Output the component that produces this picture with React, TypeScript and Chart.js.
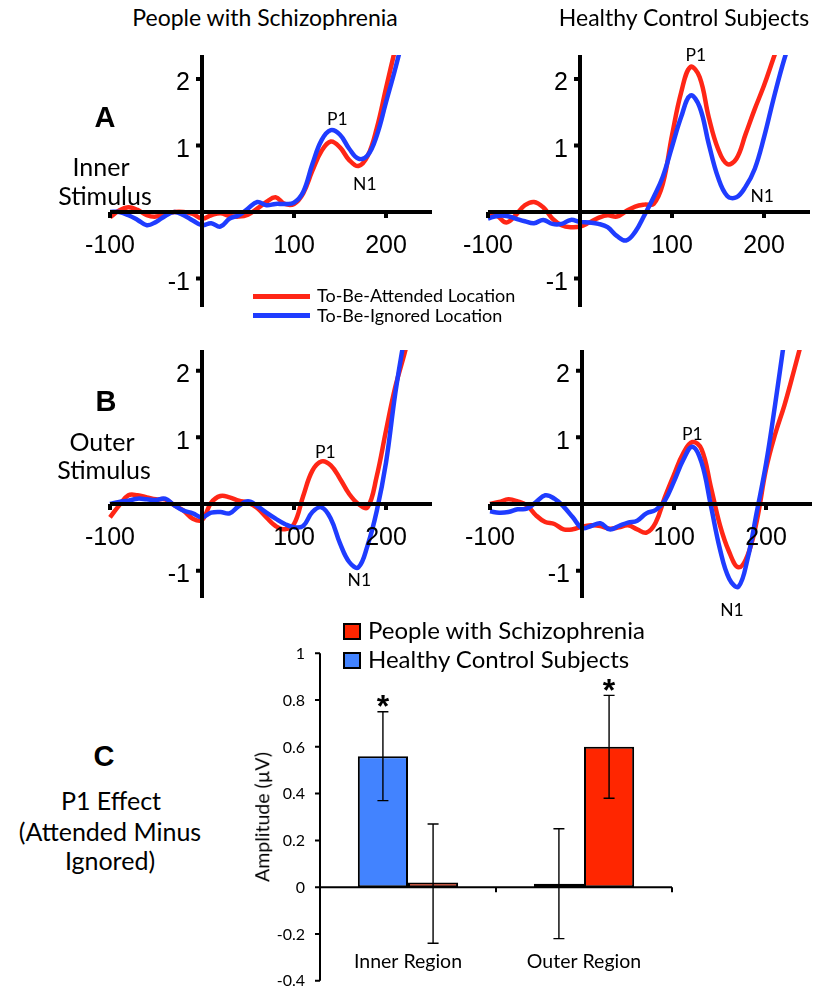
import React, { useEffect, useRef } from "react";
import { Chart, registerables } from "chart.js";

Chart.register(...registerables);

// ---------------- ERP waveform data (µV), sampled every 10 ms ----------------
const TIMES = [-100, -90, -80, -70, -60, -50, -40, -30, -20, -10, 0, 10, 20, 30, 40, 50, 60, 70, 80, 90, 100, 110, 120, 130, 140, 150, 160, 170, 180, 190, 200, 210, 220, 230, 240];

// A: Inner stimulus, people with schizophrenia
const SZ_INNER_ATTENDED = [-0.08, 0.02, 0.07, 0.03, -0.05, -0.07, -0.03, 0.0, 0.0, -0.03, -0.1, -0.05, -0.02, -0.06, -0.07, -0.04, 0.05, 0.15, 0.22, 0.12, 0.12, 0.28, 0.62, 0.92, 1.06, 0.97, 0.78, 0.69, 0.84, 1.26, 1.86, 2.45, null, null, null];
const SZ_INNER_IGNORED = [0.0, 0.0, -0.05, -0.12, -0.2, -0.15, -0.06, 0.0, -0.05, -0.13, -0.2, -0.17, -0.22, -0.1, -0.05, 0.05, 0.15, 0.1, 0.12, 0.12, 0.14, 0.3, 0.72, 1.08, 1.23, 1.16, 0.95, 0.8, 0.85, 1.15, 1.65, 2.15, 2.7, null, null];
// A: Inner stimulus, healthy control subjects
const HC_INNER_ATTENDED = [-0.02, -0.06, -0.16, -0.05, 0.1, 0.15, 0.07, -0.1, -0.2, -0.23, -0.22, -0.16, -0.09, -0.05, -0.07, 0.01, 0.08, 0.11, 0.12, 0.42, 1.15, 1.8, 2.18, 2.03, 1.42, 0.95, 0.72, 0.8, 1.17, 1.55, 1.9, 2.3, 2.7, null, null];
const HC_INNER_IGNORED = [-0.1, -0.06, -0.06, -0.1, -0.14, -0.17, -0.12, -0.18, -0.18, -0.12, -0.15, -0.16, -0.18, -0.23, -0.36, -0.43, -0.3, -0.05, 0.22, 0.53, 0.98, 1.43, 1.75, 1.58, 1.02, 0.52, 0.24, 0.22, 0.38, 0.65, 1.12, 1.68, 2.2, 2.65, null];
// B: Outer stimulus, people with schizophrenia
const SZ_OUTER_ATTENDED = [-0.2, -0.02, 0.13, 0.13, 0.1, 0.07, 0.07, -0.02, -0.1, -0.22, -0.24, 0.02, 0.12, 0.1, 0.05, 0.02, -0.06, -0.2, -0.33, -0.38, -0.3, 0.12, 0.5, 0.64, 0.58, 0.38, 0.15, 0.0, -0.05, 0.42, 1.1, 1.75, 2.25, 2.8, null];
const SZ_OUTER_IGNORED = [0.0, 0.03, 0.05, 0.08, 0.07, 0.06, 0.08, -0.02, -0.1, -0.14, -0.2, -0.13, -0.12, -0.14, -0.03, 0.04, -0.03, -0.13, -0.22, -0.3, -0.35, -0.33, -0.12, -0.05, -0.22, -0.59, -0.87, -0.95, -0.62, -0.1, 0.62, 1.65, 2.5, null, null];
// B: Outer stimulus, healthy control subjects
const HC_OUTER_ATTENDED = [0.0, 0.03, 0.07, 0.04, -0.02, -0.17, -0.27, -0.3, -0.38, -0.38, -0.34, -0.32, -0.33, -0.37, -0.35, -0.32, -0.38, -0.43, -0.28, 0.1, 0.44, 0.76, 0.93, 0.82, 0.26, -0.32, -0.72, -0.95, -0.77, -0.25, 0.52, 1.05, 1.48, 1.98, 2.5];
const HC_OUTER_IGNORED = [-0.11, -0.13, -0.12, -0.08, -0.07, 0.03, 0.13, 0.08, -0.04, -0.2, -0.36, -0.33, -0.29, -0.38, -0.33, -0.28, -0.25, -0.14, -0.09, 0.05, 0.34, 0.66, 0.86, 0.62, -0.02, -0.68, -1.12, -1.24, -0.82, -0.12, 0.6, 1.5, 2.47, null, null];

const ERP_X_TICKS = [-100, 100, 200];
const ERP_Y_TICKS = [2, 1, -1];

// Component labels (time in ms, amplitude in µV)
const NOTES_SZ_INNER = [{ label: "P1", t: 147, v: 1.4 }, { label: "N1", t: 177, v: 0.42 }];
const NOTES_HC_INNER = [{ label: "P1", t: 126, v: 2.36 }, { label: "N1", t: 198, v: 0.24 }];
const NOTES_SZ_OUTER = [{ label: "P1", t: 134, v: 0.78 }, { label: "N1", t: 171, v: -1.14 }];
const NOTES_HC_OUTER = [{ label: "P1", t: 120, v: 1.05 }, { label: "N1", t: 163, v: -1.59 }];

// ---------------- Panel C: P1 effect (attended minus ignored) ----------------
const REGIONS = ["Inner Region", "Outer Region"];
const HC_P1_EFFECT = [0.56, 0.015];
const HC_ERR_LOW = [0.37, -0.22];
const HC_ERR_HIGH = [0.75, 0.25];
const HC_SIGNIFICANT = [true, false];
const SZ_P1_EFFECT = [0.02, 0.6];
const SZ_ERR_LOW = [-0.24, 0.38];
const SZ_ERR_HIGH = [0.27, 0.82];
const SZ_SIGNIFICANT = [false, true];
const BAR_Y_TICKS = [1, 0.8, 0.6, 0.4, 0.2, 0, -0.2, -0.4];

// ---------------- styles ----------------
const RED = "#ff2616";
const BLUE = "#1f3cff";
const BAR_RED = "#ff2600";
const BAR_BLUE = "#4283ff";

const ERP_PANELS = [
  { attended: SZ_INNER_ATTENDED, ignored: SZ_INNER_IGNORED, notes: NOTES_SZ_INNER, area: [110, 55, 432, 307], yMin: -1.43, yMax: 2.36, padRight: 4 },
  { attended: HC_INNER_ATTENDED, ignored: HC_INNER_IGNORED, notes: NOTES_HC_INNER, area: [488, 55, 810, 307], yMin: -1.43, yMax: 2.36, padRight: 4 },
  { attended: SZ_OUTER_ATTENDED, ignored: SZ_OUTER_IGNORED, notes: NOTES_SZ_OUTER, area: [110, 350, 432, 598], yMin: -1.41, yMax: 2.31, padRight: 4 },
  { attended: HC_OUTER_ATTENDED, ignored: HC_OUTER_IGNORED, notes: NOTES_HC_OUTER, area: [490, 350, 812, 598], yMin: -1.41, yMax: 2.31, padRight: 2 },
];

function ErpChart({ cfg }: { cfg: any }) {
  const ref = useRef<HTMLCanvasElement>(null);
  const [l, t, r, b] = cfg.area;
  const pad = { left: 75, right: cfg.padRight, top: 22, bottom: 50 };
  const w = r - l + pad.left + pad.right;
  const h = b - t + pad.top + pad.bottom;

  useEffect(() => {
    const axesPlugin = {
      id: "erpAxes",
      afterDatasetsDraw(chart: any) {
        const { ctx, chartArea, scales } = chart;
        const xs = scales.x;
        const ys = scales.y;
        const x0 = xs.getPixelForValue(0);
        const y0 = ys.getPixelForValue(0);
        ctx.save();
        ctx.strokeStyle = "#000";
        ctx.fillStyle = "#000";
        ctx.lineCap = "butt";
        ctx.lineWidth = 4;
        ctx.beginPath();
        ctx.moveTo(chartArea.left, y0);
        ctx.lineTo(chartArea.right, y0);
        ctx.moveTo(x0, chartArea.top);
        ctx.lineTo(x0, chartArea.bottom);
        ctx.stroke();
        ctx.lineWidth = 4;
        ctx.beginPath();
        ERP_X_TICKS.forEach((tv) => {
          const px = xs.getPixelForValue(tv);
          ctx.moveTo(px, y0);
          ctx.lineTo(px, y0 + 6);
        });
        ERP_Y_TICKS.forEach((v) => {
          const py = ys.getPixelForValue(v);
          ctx.moveTo(x0, py);
          ctx.lineTo(x0 - 6, py);
        });
        ctx.stroke();
        ctx.font = '25px "Liberation Sans"';
        ctx.textBaseline = "alphabetic";
        ctx.textAlign = "center";
        ERP_X_TICKS.forEach((tv) => {
          ctx.fillText(String(tv), xs.getPixelForValue(tv), y0 + 41);
        });
        ctx.textAlign = "right";
        ERP_Y_TICKS.forEach((v) => {
          ctx.fillText(String(v), x0 - 12, ys.getPixelForValue(v) + 11.5);
        });
        ctx.font = '17.5px "Lato"';
        ctx.textAlign = "center";
        cfg.notes.forEach((n: any) => {
          ctx.fillText(n.label, xs.getPixelForValue(n.t), ys.getPixelForValue(n.v) + 6.3);
        });
        ctx.restore();
      },
    };
    const toPts = (arr: (number | null)[]) => TIMES.map((tv, i) => ({ x: tv, y: arr[i] }));
    const chart = new Chart(ref.current as HTMLCanvasElement, {
      type: "line",
      data: {
        datasets: [
          { label: "To-Be-Ignored Location", data: toPts(cfg.ignored) as any, borderColor: BLUE, borderWidth: 4.5, pointRadius: 0, tension: 0.4, fill: false, order: 0, clip: { left: 3, right: 3, top: 0, bottom: 3 } as any },
          { label: "To-Be-Attended Location", data: toPts(cfg.attended) as any, borderColor: RED, borderWidth: 4.5, pointRadius: 0, tension: 0.4, fill: false, order: 1, clip: { left: 3, right: 3, top: 0, bottom: 3 } as any },
        ],
      },
      options: {
        animation: false,
        responsive: false,
        events: [],
        layout: { padding: pad },
        plugins: { legend: { display: false }, tooltip: { enabled: false } },
        scales: {
          x: { type: "linear", min: -100, max: 250, display: false },
          y: { type: "linear", min: cfg.yMin, max: cfg.yMax, display: false },
        },
      },
      plugins: [axesPlugin],
    });
    return () => chart.destroy();
  }, []);

  return (
    <canvas
      ref={ref}
      width={w}
      height={h}
      style={{ position: "absolute", left: l - pad.left, top: t - pad.top, width: w, height: h }}
    />
  );
}

function BarChart() {
  const ref = useRef<HTMLCanvasElement>(null);
  const box = { left: 230, top: 600, width: 460, height: 391 };
  const pad = { left: 90, top: 53.3, right: 18, bottom: 10.3 };

  useEffect(() => {
    const barPlugin = {
      id: "barAxes",
      afterDatasetsDraw(chart: any) {
        const { ctx, chartArea, scales } = chart;
        const xs = scales.x;
        const ys = scales.y;
        const y0 = ys.getPixelForValue(0);
        ctx.save();
        ctx.strokeStyle = "#000";
        ctx.fillStyle = "#000";
        ctx.lineWidth = 2;
        ctx.beginPath();
        ctx.moveTo(chartArea.left, chartArea.top);
        ctx.lineTo(chartArea.left, chartArea.bottom);
        ctx.moveTo(chartArea.left, y0);
        ctx.lineTo(chartArea.right, y0);
        BAR_Y_TICKS.forEach((v) => {
          const py = ys.getPixelForValue(v);
          ctx.moveTo(chartArea.left - 5, py);
          ctx.lineTo(chartArea.left, py);
        });
        REGIONS.forEach((_, i) => {
          const px = xs.getPixelForValue(i + 0.5);
          ctx.moveTo(px, y0);
          ctx.lineTo(px, y0 + 5);
        });
        ctx.stroke();

        // error bars
        const lows = [HC_ERR_LOW, SZ_ERR_LOW];
        const highs = [HC_ERR_HIGH, SZ_ERR_HIGH];
        const sig = [HC_SIGNIFICANT, SZ_SIGNIFICANT];
        ctx.lineWidth = 1.4;
        chart.data.datasets.forEach((_: any, di: number) => {
          const meta = chart.getDatasetMeta(di);
          meta.data.forEach((bar: any, i: number) => {
            const pl = ys.getPixelForValue(lows[di][i]);
            const ph = ys.getPixelForValue(highs[di][i]);
            ctx.beginPath();
            ctx.moveTo(bar.x, pl);
            ctx.lineTo(bar.x, ph);
            ctx.moveTo(bar.x - 5.5, pl);
            ctx.lineTo(bar.x + 5.5, pl);
            ctx.moveTo(bar.x - 5.5, ph);
            ctx.lineTo(bar.x + 5.5, ph);
            ctx.stroke();
            if (sig[di][i]) {
              ctx.font = 'bold 32px "Liberation Sans"';
              ctx.textAlign = "center";
              ctx.textBaseline = "alphabetic";
              ctx.fillText("*", bar.x, ph - 13 + 18.4);
            }
          });
        });

        ctx.font = '16px "Lato"';
        ctx.textAlign = "right";
        ctx.textBaseline = "alphabetic";
        BAR_Y_TICKS.forEach((v) => {
          ctx.fillText(String(v), chartArea.left - 15, ys.getPixelForValue(v) + 5.7);
        });
        ctx.font = '19.5px "Lato"';
        ctx.textAlign = "center";
        REGIONS.forEach((lab, i) => {
          ctx.fillText(lab, xs.getPixelForValue(i), chartArea.bottom - 13);
        });
        ctx.restore();
      },
    };
    const chart = new Chart(ref.current as HTMLCanvasElement, {
      type: "bar",
      data: {
        labels: REGIONS,
        datasets: [
          { label: "Healthy Control Subjects", data: HC_P1_EFFECT, backgroundColor: BAR_BLUE, borderColor: "#000", borderWidth: 2, borderSkipped: false, categoryPercentage: 0.57, barPercentage: 1 },
          { label: "People with Schizophrenia", data: SZ_P1_EFFECT, backgroundColor: BAR_RED, borderColor: "#000", borderWidth: 2, borderSkipped: false, categoryPercentage: 0.57, barPercentage: 1 },
        ],
      },
      options: {
        animation: false,
        responsive: false,
        events: [],
        layout: { padding: pad },
        plugins: { legend: { display: false }, tooltip: { enabled: false } },
        scales: {
          x: { type: "category", offset: true, display: false },
          y: { type: "linear", min: -0.4, max: 1, display: false },
        },
      },
      plugins: [barPlugin],
    });
    return () => chart.destroy();
  }, []);

  return (
    <canvas
      ref={ref}
      width={box.width}
      height={box.height}
      style={{ position: "absolute", left: box.left, top: box.top, width: box.width, height: box.height }}
    />
  );
}

function Txt({ x, y, size, text, align = "left", family = "Lato", bold = false }: any) {
  const k = family === "Lato" ? 0.887 : 0.8465;
  const tx = align === "center" ? "-50%" : align === "right" ? "-100%" : "0";
  return (
    <div
      style={{
        position: "absolute",
        left: x,
        top: y - k * size,
        fontFamily: `"${family}"`,
        fontSize: size,
        lineHeight: `${size}px`,
        fontWeight: bold ? 700 : 400,
        whiteSpace: "nowrap",
        transform: `translateX(${tx})`,
        color: "#000",
      }}
    >
      {text}
    </div>
  );
}

export default function App() {
  return (
    <div style={{ position: "absolute", left: 0, top: 0, width: 814, height: 991, overflow: "hidden", background: "#fff", fontFamily: "Lato" }}>
      {ERP_PANELS.map((p, i) => (
        <ErpChart key={i} cfg={p} />
      ))}
      <BarChart />

      <Txt x={265} y={26} size={23} text="People with Schizophrenia" align="center" />
      <Txt x={684} y={26} size={23} text="Healthy Control Subjects" align="center" />

      <Txt x={105} y={128} size={29} text="A" align="center" family="Liberation Sans" bold />
      <Txt x={101} y={176} size={25} text="Inner" align="center" />
      <Txt x={105} y={205} size={25} text="Stimulus" align="center" />

      <Txt x={106} y={412} size={29} text="B" align="center" family="Liberation Sans" bold />
      <Txt x={102} y={451} size={25} text="Outer" align="center" />
      <Txt x={104} y={479} size={25} text="Stimulus" align="center" />

      <Txt x={104} y={767} size={29} text="C" align="center" family="Liberation Sans" bold />
      <Txt x={111} y={810} size={25} text="P1 Effect" align="center" />
      <Txt x={110} y={841} size={25} text="(Attended Minus" align="center" />
      <Txt x={110} y={870} size={25} text="Ignored)" align="center" />

      {/* ERP legend */}
      <div style={{ position: "absolute", left: 253, top: 293.5, width: 57, height: 5, background: RED }} />
      <Txt x={317} y={301.7} size={18} text="To-Be-Attended Location" />
      <div style={{ position: "absolute", left: 253, top: 312.5, width: 57, height: 5, background: BLUE }} />
      <Txt x={317} y={321.7} size={18} text="To-Be-Ignored Location" />

      {/* Bar legend */}
      <div style={{ position: "absolute", left: 343, top: 623, width: 18, height: 17, boxSizing: "border-box", border: "2px solid #000", background: BAR_RED }} />
      <Txt x={368} y={639} size={24} text="People with Schizophrenia" />
      <div style={{ position: "absolute", left: 343, top: 652, width: 18, height: 17, boxSizing: "border-box", border: "2px solid #000", background: BAR_BLUE }} />
      <Txt x={368} y={668} size={24} text="Healthy Control Subjects" />

      {/* Bar y-axis title */}
      <div
        style={{
          position: "absolute",
          left: 262,
          top: 817,
          fontFamily: '"Lato"',
          fontSize: 19.5,
          lineHeight: "19.5px",
          whiteSpace: "nowrap",
          transform: "translate(-50%, -50%) rotate(-90deg)",
          color: "#000",
        }}
      >
        Amplitude (µV)
      </div>
    </div>
  );
}
